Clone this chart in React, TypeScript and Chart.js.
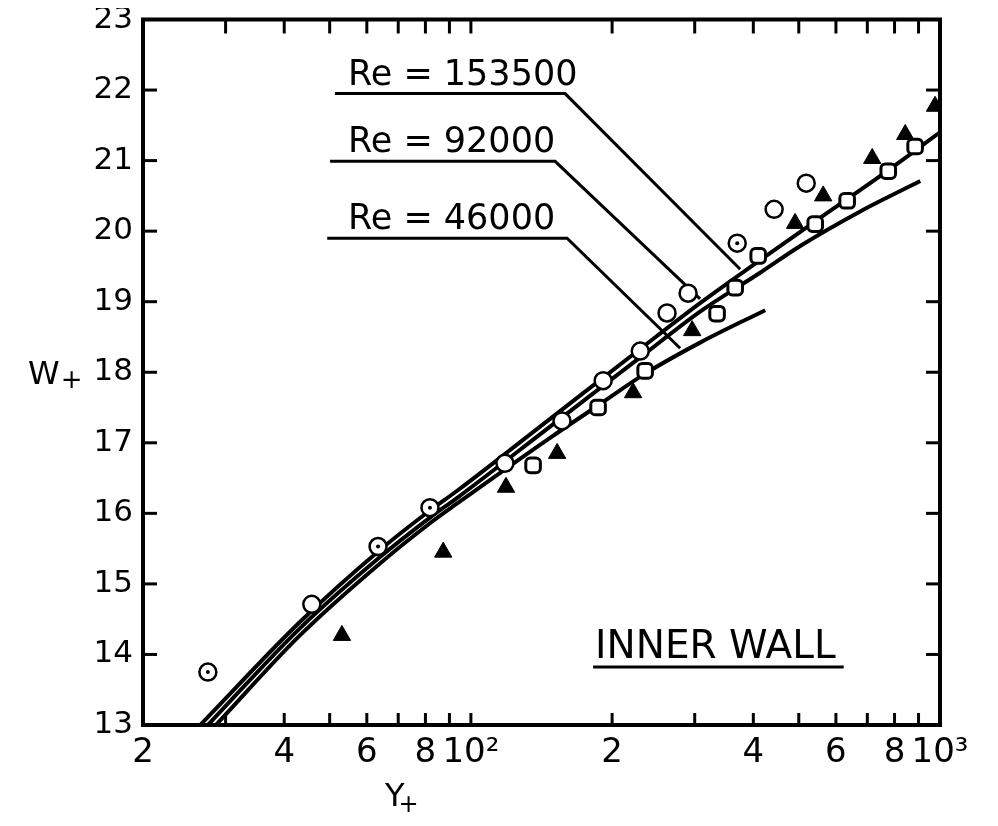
import React, { useEffect, useRef } from "react";
import { Chart, registerables } from "chart.js";
Chart.register(...registerables);

// ---- data ----
const circleX = [27.5, 45.8, 63.4, 81.8, 118.2, 156.4, 191.4, 229.6, 261.9, 290.4, 369.6, 443, 518.6];
const circleY = [13.75, 14.71, 15.53, 16.08, 16.71, 17.31, 17.88, 18.3, 18.84, 19.12, 19.83, 20.31, 20.68];
const dottedX = [27.5, 63.4, 81.8, 369.6];
const dottedY = [13.75, 15.53, 16.08, 19.83];
const squareX = [135.7, 186.7, 235.2, 334.8, 365.9, 409.7, 542, 634, 775.7, 885];
const squareY = [16.68, 17.5, 18.02, 18.83, 19.2, 19.65, 20.1, 20.43, 20.85, 21.2];
const triangleX = [53.1, 87.3, 118.8, 152.7, 221.7, 296.3, 491, 563.6, 716.9, 843, 976];
const triangleY = [14.27, 15.45, 16.37, 16.85, 17.71, 18.59, 20.11, 20.5, 21.03, 21.37, 21.77];

const re153500X = [26.5, 43.2, 64.0, 81.8, 93.5, 147.5, 229.5, 308, 413.6, 542, 745, 1000];
const re153500Y = [13.0, 14.46, 15.48, 16.04, 16.32, 17.34, 18.33, 18.98, 19.59, 20.14, 20.78, 21.4];
const re92000X = [27.5, 43.2, 64.0, 81.8, 93.5, 147.5, 229.5, 308, 413.6, 503.5, 676, 907.6];
const re92000Y = [13.0, 14.37, 15.38, 15.94, 16.22, 17.23, 18.21, 18.86, 19.41, 19.79, 20.28, 20.71];
const re46000X = [28.6, 43.2, 64.0, 81.8, 93.5, 147.5, 188.6, 235.2, 308, 424];
const re46000Y = [13.0, 14.27, 15.29, 15.86, 16.14, 17.07, 17.55, 17.98, 18.42, 18.88];

const leader153500X = [51.3, 158.8, 375];
const leader153500Y = [21.95, 21.95, 19.46];
const leader92000X = [50.1, 151.2, 308];
const leader92000Y = [20.99, 20.99, 19.04];
const leader46000X = [49.4, 160.3, 279.3];
const leader46000Y = [19.9, 19.9, 18.34];

const curveLabels = ["Re = 153500", "Re = 92000", "Re = 46000"];
const labelTextX = 54.7;

const xTickValues = [20, 30, 40, 50, 60, 70, 80, 90, 100, 200, 300, 400, 500, 600, 700, 800, 900, 1000];
const xTickLabels = ["2", "", "4", "", "6", "", "8", "", "10²", "2", "", "4", "", "6", "", "8", "", "10³"];
const yTickValues = [13, 14, 15, 16, 17, 18, 19, 20, 21, 22, 23];

const noteText = "INNER WALL";
const noteX = 184;
const noteY = 13.95;

const FONT = "'DejaVu Sans', 'Liberation Sans', sans-serif";

const pts = (xs: number[], ys: number[]) => xs.map((x, i) => ({ x, y: ys[i] }));

const curve = (xs: number[], ys: number[]) => ({
  data: pts(xs, ys),
  showLine: true,
  borderColor: "#000",
  borderWidth: 4,
  pointRadius: 0,
  cubicInterpolationMode: "monotone" as const,
  order: 2,
});

const leader = (xs: number[], ys: number[]) => ({
  data: pts(xs, ys),
  showLine: true,
  borderColor: "#000",
  borderWidth: 3,
  pointRadius: 0,
  tension: 0,
  order: 3,
});

const decor = {
  id: "decor",
  afterDraw(chart: any) {
    const { ctx, chartArea: a, scales } = chart;
    const xs = scales.x;
    const ys = scales.y;
    ctx.save();
    ctx.strokeStyle = "#000";
    ctx.fillStyle = "#000";
    ctx.lineCap = "butt";
    // frame
    ctx.lineWidth = 4;
    ctx.strokeRect(a.left, a.top, a.right - a.left, a.bottom - a.top);
    // inward ticks
    ctx.lineWidth = 3;
    const seg = (x1: number, y1: number, x2: number, y2: number) => {
      ctx.beginPath();
      ctx.moveTo(x1, y1);
      ctx.lineTo(x2, y2);
      ctx.stroke();
    };
    xTickValues.forEach((v) => {
      if (v === xTickValues[0] || v === xTickValues[xTickValues.length - 1]) return;
      const px = xs.getPixelForValue(v);
      seg(px, a.bottom, px, a.bottom - 12);
      seg(px, a.top, px, a.top + 14);
    });
    yTickValues.forEach((v) => {
      if (v === yTickValues[0] || v === yTickValues[yTickValues.length - 1]) return;
      const py = ys.getPixelForValue(v);
      seg(a.left, py, a.left + 14, py);
      seg(a.right, py, a.right - 14, py);
    });
    // curve labels
    ctx.font = `35px ${FONT}`;
    ctx.textAlign = "left";
    ctx.textBaseline = "alphabetic";
    const leadersY = [leader153500Y, leader92000Y, leader46000Y];
    curveLabels.forEach((t, i) => {
      const py = ys.getPixelForValue(leadersY[i][0]);
      ctx.fillText(t, xs.getPixelForValue(labelTextX), py - 9);
    });
    // note
    ctx.font = `39px ${FONT}`;
    const nx = xs.getPixelForValue(noteX);
    const ny = ys.getPixelForValue(noteY);
    ctx.fillText(noteText, nx, ny);
    const w = ctx.measureText(noteText).width;
    ctx.lineWidth = 3;
    seg(nx - 2, ny + 9, nx + w + 8, ny + 9);
    // axis titles
    const yMid = ys.getPixelForValue(18);
    ctx.font = `32px ${FONT}`;
    ctx.fillText("W", a.left - 115, yMid + 12);
    const ww = ctx.measureText("W").width;
    ctx.font = `26px ${FONT}`;
    ctx.fillText("+", a.left - 115 + ww + 1, yMid + 16);
    ctx.font = `32px ${FONT}`;
    const tx = a.left + 242;
    const tb = a.bottom + 85;
    ctx.fillText("Y", tx, tb - 4);
    const yw = ctx.measureText("Y").width;
    ctx.font = `24px ${FONT}`;
    ctx.fillText("+", tx + yw - 6, tb + 2);
    ctx.restore();
  },
};

export default function App() {
  const ref = useRef<HTMLCanvasElement>(null);
  useEffect(() => {
    if (!ref.current) return;
    const chart = new Chart(ref.current, {
      type: "scatter",
      data: {
        datasets: [
          {
            data: pts(triangleX, triangleY),
            pointStyle: "triangle",
            pointRadius: 10,
            backgroundColor: "#000",
            borderColor: "#000",
            borderWidth: 1,
            order: 0,
          },
          {
            data: pts(dottedX, dottedY),
            pointStyle: "circle",
            pointRadius: 2,
            backgroundColor: "#000",
            borderColor: "#000",
            borderWidth: 0,
            order: 0,
          },
          {
            data: pts(circleX, circleY),
            pointStyle: "circle",
            pointRadius: 8.5,
            backgroundColor: "#fff",
            borderColor: "#000",
            borderWidth: 2.5,
            order: 1,
          },
          {
            data: pts(squareX, squareY),
            pointStyle: "rectRounded",
            pointRadius: 8.5,
            backgroundColor: "#fff",
            borderColor: "#000",
            borderWidth: 3,
            order: 1,
          },
          curve(re153500X, re153500Y),
          curve(re92000X, re92000Y),
          curve(re46000X, re46000Y),
          leader(leader153500X, leader153500Y),
          leader(leader92000X, leader92000Y),
          leader(leader46000X, leader46000Y),
        ] as any,
      },
      options: {
        responsive: false,
        animation: false,
        events: [],
        layout: { padding: { top: 10, right: 50, left: 0, bottom: 0 } },
        plugins: { legend: { display: false }, tooltip: { enabled: false } },
        scales: {
          x: {
            type: "logarithmic",
            min: 20,
            max: 1000,
            grid: { display: false, drawTicks: false },
            border: { display: false },
            afterBuildTicks: (s: any) => {
              s.ticks = xTickValues.map((v) => ({ value: v }));
            },
            afterFit: (s: any) => {
              s.height = 93;
              s.paddingLeft = 0;
              s.paddingRight = 0;
            },
            ticks: {
              autoSkip: false,
              maxRotation: 0,
              minRotation: 0,
              padding: 8,
              color: "#000",
              font: { family: FONT, size: 34 },
              callback: (_v: any, i: number) => xTickLabels[i],
            },
          },
          y: {
            type: "linear",
            min: 13,
            max: 23,
            grid: { display: false, drawTicks: false },
            border: { display: false },
            afterBuildTicks: (s: any) => {
              s.ticks = yTickValues.map((v) => ({ value: v }));
            },
            afterFit: (s: any) => {
              s.width = 135;
              s.paddingTop = 0;
              s.paddingBottom = 0;
            },
            ticks: {
              padding: 10,
              color: "#000",
              font: { family: FONT, size: 31 },
              callback: (v: any) => String(v),
            },
          },
        },
      },
      plugins: [decor],
    });
    return () => chart.destroy();
  }, []);
  return (
    <div style={{ width: 982, height: 810 }}>
      <canvas ref={ref} width={982} height={810} style={{ width: 982, height: 810 }} />
    </div>
  );
}
